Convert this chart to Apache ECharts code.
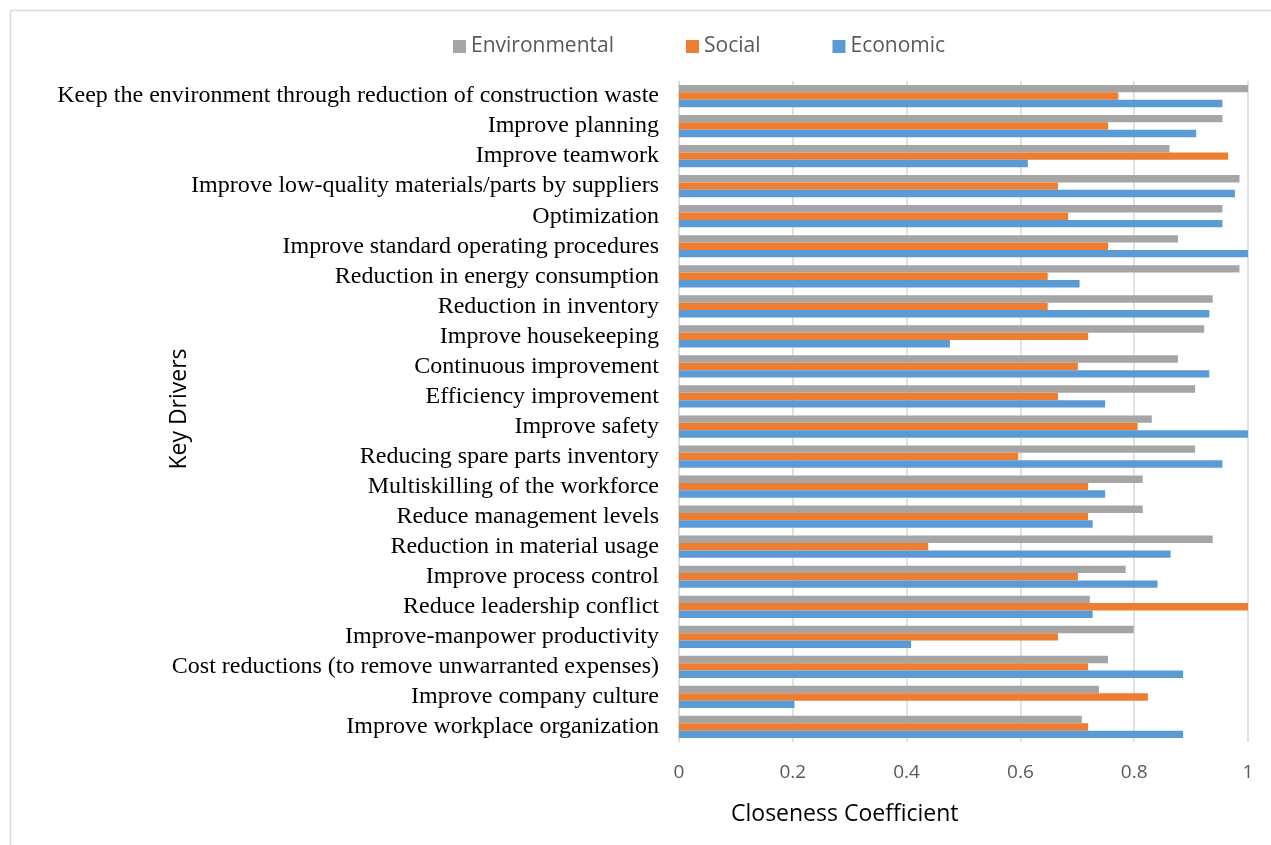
<!DOCTYPE html>
<html>
<head>
<meta charset="utf-8">
<script src="https://cdn.jsdelivr.net/npm/echarts@6/dist/echarts.min.js"></script>
<style>
html,body{margin:0;padding:0;background:#fff;}
#chart{width:1271px;height:845px;}
</style>
</head>
<body>
<div id="chart"></div>
<script>
const categories = [
  "Keep the environment through reduction of construction waste",
  "Improve planning",
  "Improve teamwork",
  "Improve low-quality materials/parts by suppliers",
  "Optimization",
  "Improve standard operating procedures",
  "Reduction in energy consumption",
  "Reduction in inventory",
  "Improve housekeeping",
  "Continuous improvement",
  "Efficiency improvement",
  "Improve safety",
  "Reducing spare parts inventory",
  "Multiskilling of the workforce",
  "Reduce management levels",
  "Reduction in material usage",
  "Improve process control",
  "Reduce leadership conflict",
  "Improve-manpower productivity",
  "Cost reductions (to remove unwarranted expenses)",
  "Improve company culture",
  "Improve workplace organization"
];
const environmental = [1.0, 0.955, 0.862, 0.985, 0.955, 0.877, 0.985, 0.938, 0.923, 0.877, 0.907, 0.831, 0.907, 0.815, 0.815, 0.938, 0.785, 0.722, 0.799, 0.754, 0.738, 0.708];
const social = [0.772, 0.754, 0.965, 0.666, 0.684, 0.754, 0.648, 0.648, 0.719, 0.701, 0.666, 0.806, 0.596, 0.719, 0.719, 0.438, 0.701, 1.0, 0.666, 0.719, 0.824, 0.719];
const economic = [0.955, 0.909, 0.613, 0.977, 0.955, 1.0, 0.704, 0.932, 0.476, 0.932, 0.749, 1.0, 0.955, 0.749, 0.727, 0.864, 0.841, 0.727, 0.408, 0.886, 0.203, 0.886];
const xTicks = [0, 0.2, 0.4, 0.6, 0.8, 1];

const chart = echarts.init(document.getElementById('chart'));
const barCommon = {type: 'bar', barGap: '0%', barCategoryGap: '26%'};
chart.setOption({
  animation: false,
  backgroundColor: '#ffffff',
  graphic: [{
    type: 'rect', left: 8, top: 8,
    shape: {width: 1300, height: 900},
    style: {fill: 'none', stroke: '#d9d9d9', lineWidth: 1.5},
    silent: true
  }, {
    type: 'text', left: 731, top: 803,
    style: {text: 'Closeness Coefficient', fontFamily: 'Open Sans', fontSize: 23, fill: '#000'},
    silent: true
  }, {
    type: 'text', x: 179, y: 409, rotation: Math.PI / 2,
    style: {text: 'Key Drivers', fontFamily: 'Open Sans', fontSize: 23, fill: '#000', align: 'center', verticalAlign: 'middle'},
    silent: true
  }],
  legend: {
    top: 31, left: 448,
    itemWidth: 13, itemHeight: 13, itemGap: 72,
    icon: 'rect',
    textStyle: {fontFamily: 'Open Sans', fontSize: 21, color: '#595959'},
    data: ['Environmental', 'Social', 'Economic']
  },
  grid: {left: 679, right: 23, top: 81, bottom: 103, containLabel: false},
  xAxis: {
    type: 'value', min: 0, max: 1, interval: 0.2,
    axisLine: {show: false}, axisTick: {show: false},
    axisLabel: {margin: 21, fontFamily: 'Open Sans', fontSize: 19, color: '#595959',
      formatter: v => String(xTicks.find(t => Math.abs(t - v) < 1e-9) ?? v)},
    splitLine: {show: true, lineStyle: {color: '#d9d9d9', width: 1.5}}
  },
  yAxis: {
    type: 'category', data: categories, inverse: true,
    axisLine: {show: true, lineStyle: {color: '#d9d9d9', width: 1.5}},
    axisTick: {show: false},
    axisLabel: {interval: 0, margin: 20, fontFamily: 'Liberation Serif', fontSize: 24, color: '#000'}
  },
  series: [
    Object.assign({name: 'Environmental', data: environmental, itemStyle: {color: '#A5A5A5'}}, barCommon),
    Object.assign({name: 'Social', data: social, itemStyle: {color: '#ED7D31'}}, barCommon),
    Object.assign({name: 'Economic', data: economic, itemStyle: {color: '#5B9BD5'}}, barCommon)
  ]
});
</script>
</body>
</html>
